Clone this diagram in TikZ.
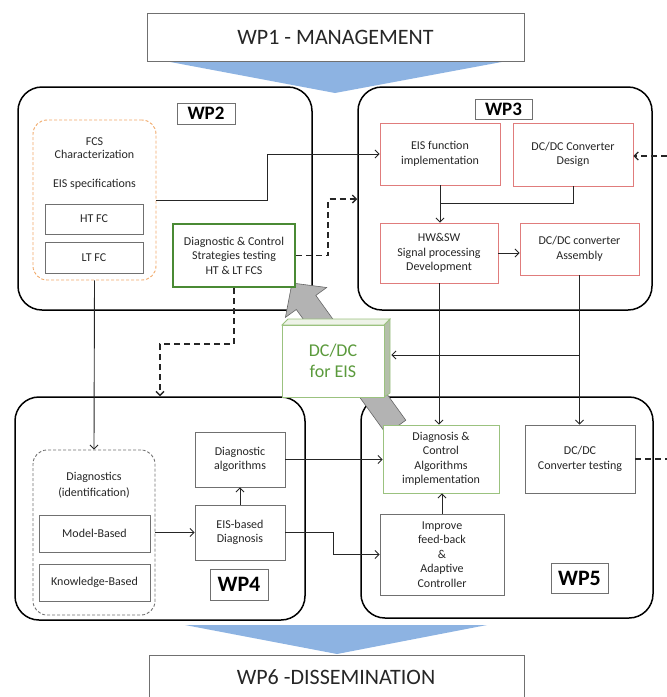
\documentclass[tikz,border=0pt]{standalone}
\usepackage{fontspec}
\setmainfont{Carlito}
\usetikzlibrary{arrows.meta,calc}
\definecolor{bluearr}{HTML}{8DB3E2}
\definecolor{boxgray}{HTML}{707070}
\definecolor{txt}{HTML}{262626}
\definecolor{redb}{HTML}{E07C7C}
\definecolor{orangeb}{HTML}{F0A868}
\definecolor{dgreen}{HTML}{4A8A34}
\definecolor{lgreen}{HTML}{9BC27F}
\definecolor{gtext}{HTML}{5B9A3C}
\definecolor{sidecol}{HTML}{B4BFAA}
\definecolor{topcol}{HTML}{EEF3E8}
\definecolor{garrow}{HTML}{B3B3B3}
\begin{document}
\begin{tikzpicture}[x=1pt,y=-1pt,
  wpbox/.style={draw=black, line width=1.5pt, rounded corners=24pt, inner sep=0pt},
  lab/.style={draw=boxgray, line width=0.8pt, fill=white, inner sep=0pt, text=black, font=\bfseries\fontsize{19}{22}\selectfont},
  box/.style={draw=boxgray, line width=0.8pt, fill=white, inner sep=1pt, align=center, text=txt, font=\fontsize{12}{14.5}\selectfont},
  redbox/.style={box, draw=redb},
  plain/.style={align=center, text=txt, inner sep=0pt, font=\fontsize{12}{14.5}\selectfont},
  arr/.style={-{Straight Barb[length=4pt,width=8pt]}, line width=0.9pt, draw=black!85},
  darr/.style={arr, dash pattern=on 6pt off 4pt, line width=1.3pt},
  big/.style={font=\fontsize{22}{25}\selectfont, text=txt}
]
\useasboundingbox (0,0) rectangle (667,697);

% top and bottom banners
\fill[bluearr] (165,61) -- (507,61) -- (335,93) -- cycle;
\node[draw=boxgray, line width=0.8pt, fill=white, minimum width=377pt, minimum height=48pt, inner sep=0pt, big] (wp1) at (335.5,37) {WP1 - MANAGEMENT};
\fill[bluearr] (185,625) -- (487,625) -- (337,654) -- cycle;
\draw[draw=boxgray, line width=0.8pt] (149,700) -- (149,655) -- (524,655) -- (524,700);
\node[big, inner sep=0pt] (wp6) at (336,677) {WP6 -DISSEMINATION};

% work package frames
\node[wpbox, minimum width=294pt, minimum height=223pt] (wp2) at (165,198.5) {};
\node[wpbox, minimum width=294pt, minimum height=223pt] (wp3) at (505,198.5) {};
\node[wpbox, minimum width=290pt, minimum height=223pt] (wp4) at (160,508.5) {};
\node[wpbox, minimum width=292pt, minimum height=221pt] (wp5) at (507,507.5) {};

% big grey arrow
\filldraw[fill=garrow, draw=gray!80!black, line width=0.6pt]
  (292,283) -- (326.7,287.5) -- (315.8,295.4) -- (405.8,420.2) -- (386.4,434.2) -- (296.3,309.5) -- (285.4,317.4) -- cycle;

% WP2
\node[lab, minimum width=58pt, minimum height=21pt] (l2) at (206,113.5) {WP2};
\node[draw=orangeb, dash pattern=on 3pt off 2pt, rounded corners=14pt, line width=0.9pt, minimum width=123pt, minimum height=160pt, inner sep=0pt] (fcs) at (94.5,200) {};
\node[plain, font=\fontsize{12}{13}\selectfont] (fcst) at (94.5,148) {FCS\\Characterization};
\node[plain] (eiss) at (94.5,184) {EIS specifications};
\node[box, minimum width=98pt, minimum height=30pt, inner sep=0pt] (ht) at (94,219) {HT FC};
\node[box, minimum width=98pt, minimum height=31pt, inner sep=0pt] (lt) at (94,257.5) {LT FC};
\node[box, draw=dgreen, line width=2pt, minimum width=122pt, minimum height=63pt, inner sep=0pt] (dc) at (234,255.5) {Diagnostic \& Control\\Strategies testing\\HT \& LT FCS};

% WP3
\node[lab, minimum width=57pt, minimum height=20pt] (l3) at (503.5,109.5) {WP3};
\node[redbox, minimum width=120pt, minimum height=62pt, inner sep=0pt] (eis) at (440,154) {EIS function\\implementation};
\node[redbox, minimum width=120pt, minimum height=63pt, inner sep=0pt] (design) at (573,154.5) {DC/DC Converter\\Design};
\node[redbox, minimum width=118pt, minimum height=60pt, inner sep=0pt] (hwsw) at (439,253) {HW\&SW\\Signal processing\\Development};
\node[redbox, minimum width=119pt, minimum height=52pt, inner sep=0pt] (assembly) at (579.5,249) {DC/DC converter\\Assembly};

% WP4
\node[draw=boxgray, dash pattern=on 3pt off 2pt, rounded corners=14pt, line width=0.9pt, minimum width=122pt, minimum height=165pt, inner sep=0pt] (diag) at (94,532.5) {};
\node[plain, font=\fontsize{12}{15.5}\selectfont] (diagt) at (94,485) {Diagnostics\\(identification)};
\node[box, minimum width=111pt, minimum height=37pt, inner sep=0pt] (model) at (94.5,533.5) {Model-Based};
\node[box, minimum width=111pt, minimum height=37pt, inner sep=0pt] (know) at (94.5,582.5) {Knowledge-Based};
\node[box, minimum width=90pt, minimum height=55pt, inner sep=0pt] (dalg) at (240,459.5) {Diagnostic\\algorithms};
\node[box, minimum width=90pt, minimum height=55pt, inner sep=0pt] (eisb) at (240,532.5) {EIS-based\\Diagnosis};
\node[lab, minimum width=58pt, minimum height=31pt, font=\bfseries\fontsize{22}{24}\selectfont] (l4) at (239,584.5) {WP4};

% WP5
\node[box, draw=lgreen, minimum width=116pt, minimum height=68pt, inner sep=0pt] (dci) at (441,459) {Diagnosis \&\\Control\\Algorithms\\implementation};
\node[box, minimum width=110pt, minimum height=68pt, inner sep=0pt] (test) at (580,459) {DC/DC\\Converter testing};
\node[box, minimum width=124pt, minimum height=81pt, inner sep=0pt] (improve) at (442,554.5) {Improve\\feed-back\\\&\\Adaptive\\Controller};
\node[lab, minimum width=57pt, minimum height=30pt, font=\bfseries\fontsize{22}{24}\selectfont] (l5) at (579.5,578) {WP5};

% 3D box DC/DC for EIS
\filldraw[fill=sidecol, draw=lgreen, line width=0.8pt] (384,325) -- (390,319) -- (390,393) -- (384,397) -- cycle;
\filldraw[fill=topcol, draw=lgreen, line width=0.8pt] (282,325) -- (288,319) -- (390,319) -- (384,325) -- cycle;
\node[draw=lgreen, line width=0.8pt, fill=white, minimum width=102pt, minimum height=72pt, inner sep=0pt, text=gtext, align=center, font=\fontsize{18}{21}\selectfont] (dcdc) at (333,361) {DC/DC\\for EIS};

% connectors
\coordinate (r1) at (667,156);
\coordinate (r2) at (667,459);
\coordinate (j) at (440,203);
\draw[arr] (fcs.east) -- ++(111,0) |- (eis.west);
\draw[arr] (eis.south) -- (eis.south |- hwsw.north);
\draw[line width=0.9pt, draw=black!85] (design.south) |- (j);
\draw[arr] (hwsw.east) -- (hwsw.east -| assembly.west);
\draw[darr] (r1) -- (design.east |- r1);
\draw[darr] (dc.east) -- ++(32,0) |- (wp3.west |- 0,199);
\draw[darr] (dc.south) -- ++(0,56) -| (wp4.north);
\draw[arr] (fcs.south) -- (diag.north);
\draw[arr] (diag.east) -- (eisb.west);
\draw[arr] (eisb.north) -- (dalg.south);
\draw[arr] (dalg.east) -- (dci.west |- dalg.east);
\draw[arr] (eisb.east) -- ++(48,0) |- (improve.west);
\draw[arr] (improve.north) -- (improve.north |- dci.south);
\draw[arr] (hwsw.south) -- (hwsw.south |- dci.north);
\draw[arr] (assembly.south) -- (assembly.south |- test.north);
\coordinate (k) at (assembly.south |- 0,355);
\draw[arr] (k) -- ([xshift=7pt]dcdc.east |- k);
\draw[line width=1.3pt, dash pattern=on 6pt off 4pt, draw=black!85] (test.east) -- (r2);
\end{tikzpicture}
\end{document}
